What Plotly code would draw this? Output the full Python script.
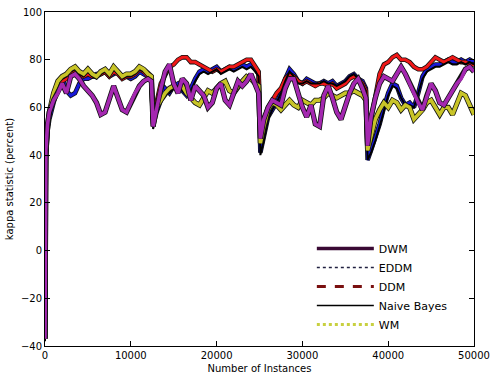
import plotly.graph_objects as go

# Number of instances (shared x grid)
X = [0, 100, 300, 500, 1000, 1500, 2000, 2500, 3000, 3500, 4000, 4500, 5000, 5500, 6000,
     6500, 7000, 7500, 8000, 8500, 9000, 9500, 10000, 10500, 11000, 11500, 12000, 12400,
     12600, 13000, 13500, 14000, 14500, 15000, 15500, 16000, 16500, 17000, 17500, 18000,
     18500, 19000, 19500, 20000, 20500, 21000, 21500, 22000, 22500, 23000, 23500, 24000,
     24500, 24900,
     25100, 25500, 26000, 26500, 27000, 27500, 28000, 28500, 29000, 29500, 30000, 30500,
     31000, 31500, 32000, 32500, 33000, 33500, 34000, 34500, 35000, 35500, 36000, 36500,
     37000, 37400,
     37600, 38000, 38500, 39000, 39500, 40000, 40500, 41000, 41500, 42000, 42500, 43000,
     43500, 44000, 44500, 45000, 45500, 46000, 46500, 47000, 47500, 48000, 48500, 49000,
     49500, 50000]

DWM = [-37, 42, 53, 58, 63, 66, 70, 66, 73, 74, 72, 69, 67, 65, 62, 57, 58, 63, 69, 64, 59, 58, 62, 66, 69, 71, 72, 71,
       52, 60, 68, 75, 78, 70, 66, 72, 70, 63, 69, 67, 65, 60, 62, 68, 70, 63, 61, 66, 71, 69, 71, 74, 70, 66,
       47, 55, 60, 63, 62, 61, 68, 72, 72, 66, 60, 56, 61, 53, 52, 65, 69, 64, 58, 55, 61, 66, 70, 72, 68, 64,
       44, 56, 64, 70, 73, 72, 71, 74, 77, 74, 70, 66, 62, 59, 65, 70, 67, 62, 61, 64, 67, 70, 72, 76, 77, 75]

EDDM = [-37, 38, 50, 55, 62, 68, 73, 67, 65, 66, 70, 72, 72, 73, 74, 74, 75, 73, 74, 75, 73, 73, 72, 73, 75, 74, 73, 72,
        52, 58, 63, 68, 66, 69, 70, 67, 65, 68, 72, 75, 76, 75, 76, 77, 75, 76, 77, 76, 77, 78, 77, 78, 76, 74,
        41, 48, 56, 59, 62, 66, 72, 76, 74, 71, 70, 72, 71, 70, 70, 71, 70, 71, 69, 70, 71, 73, 74, 72, 71, 68,
        38, 42, 47, 53, 60, 66, 70, 69, 64, 61, 62, 60, 66, 73, 76, 77, 78, 78, 79, 80, 79, 79, 80, 79, 80, 79]

DDM = [-37, 41, 52, 57, 64, 69, 71, 72, 74, 75, 74, 73, 74, 73, 73, 74, 75, 73, 75, 74, 72, 73, 73, 74, 76, 75, 73, 72,
       53, 62, 70, 74, 77, 78, 80, 81, 81, 79, 79, 78, 77, 76, 75, 76, 75, 76, 77, 77, 78, 79, 80, 80, 77, 75,
       48, 55, 60, 63, 66, 68, 72, 74, 73, 71, 70, 71, 70, 69, 70, 70, 69, 70, 68, 69, 70, 72, 73, 72, 70, 67,
       42, 55, 65, 74, 78, 79, 81, 82, 80, 80, 79, 77, 76, 76, 77, 79, 81, 80, 79, 80, 81, 80, 79, 79, 78, 78]

NAIVE_BAYES = [-38, 40, 51, 57, 65, 70, 72, 73, 75, 76, 74, 73, 75, 73, 72, 74, 75, 73, 76, 74, 72, 73, 73, 74, 76, 75, 73, 72,
               51, 57, 63, 67, 66, 68, 69, 67, 65, 67, 71, 74, 75, 74, 75, 76, 74, 75, 76, 75, 76, 77, 76, 77, 75, 73,
               40, 46, 55, 59, 62, 66, 71, 75, 73, 70, 70, 71, 70, 70, 70, 71, 70, 70, 69, 70, 71, 73, 74, 72, 70, 67,
               38, 41, 46, 52, 59, 65, 69, 68, 64, 61, 61, 60, 66, 72, 75, 76, 77, 77, 78, 79, 78, 78, 79, 78, 79, 78]

WM = [-37, 40, 52, 58, 66, 71, 73, 74, 76, 77, 75, 74, 76, 74, 73, 75, 76, 74, 77, 75, 73, 74, 74, 75, 77, 76, 74, 73,
      55, 60, 63, 66, 68, 69, 68, 69, 66, 64, 62, 61, 64, 67, 66, 68, 70, 71, 67, 66, 69, 71, 73, 72, 70, 69,
      45, 52, 59, 62, 61, 59, 61, 63, 61, 60, 63, 62, 61, 63, 63, 64, 66, 65, 64, 65, 66, 66, 67, 66, 65, 63,
      42, 48, 55, 59, 62, 60, 63, 62, 59, 61, 60, 55, 57, 59, 62, 63, 60, 57, 60, 60, 57, 62, 66, 65, 61, 57]

X_TICKS = [0, 10000, 20000, 30000, 40000, 50000]
Y_TICKS = [-40, -20, 0, 20, 40, 60, 80, 100]

FONT = "DejaVu Sans"

fig = go.Figure()

# drawn series (outline + colour), draw order bottom -> top
drawn = [
    ("EDDM", EDDM, "#1818d8", 3.0),
    ("DDM", DDM, "#f01818", 3.0),
    ("Naive Bayes", NAIVE_BAYES, "#000000", 2.0),
    ("WM", WM, "#c8c428", 3.6),
    ("DWM", DWM, "#a428b0", 3.6),
]
for name, ys, col, w in drawn:
    if col != "#000000":
        fig.add_trace(go.Scatter(x=X, y=ys, mode="lines", showlegend=False, hoverinfo="skip",
                                 line=dict(color="#101010", width=w + 1.6)))
    fig.add_trace(go.Scatter(x=X, y=ys, mode="lines", name=name, showlegend=False,
                             line=dict(color=col, width=w)))

# legend-only entries (styles as in the legend)
legend_styles = [
    ("DWM", "#3a0a34", "solid", 3.5),
    ("EDDM", "#202040", "dot", 1.5),
    ("DDM", "#7a1010", "dash", 3.0),
    ("Naive Bayes", "#000000", "solid", 1.5),
    ("WM", "#c8d040", "dot", 3.0),
]
for name, col, dash, w in legend_styles:
    fig.add_trace(go.Scatter(x=[None], y=[None], mode="lines", name=name,
                             line=dict(color=col, dash=dash, width=w)))

axis_common = dict(showline=True, linecolor="black", linewidth=1, mirror="ticks",
                   ticks="inside", ticklen=5, tickcolor="black", showgrid=False,
                   zeroline=False, automargin=False,
                   tickfont=dict(family=FONT, size=10, color="black"))

fig.update_layout(
    width=492, height=376,
    margin=dict(l=45, r=18, t=12, b=30),
    paper_bgcolor="white", plot_bgcolor="white",
    font=dict(family=FONT, size=10, color="black"),
    xaxis=dict(range=[0, 50000], tickvals=X_TICKS, ticktext=[str(v) for v in X_TICKS],
               title=dict(text="Number of Instances", font=dict(family=FONT, size=10), standoff=4),
               **axis_common),
    yaxis=dict(range=[-40, 100], tickvals=Y_TICKS,
               title=dict(text="kappa statistic (percent)", font=dict(family=FONT, size=10), standoff=5),
               **axis_common),
    legend=dict(x=0.622, y=0.335, xanchor="left", yanchor="top", bgcolor="rgba(0,0,0,0)",
                font=dict(family=FONT, size=11, color="black"), tracegroupgap=0, itemwidth=57),
    showlegend=True,
)

fig.write_html("out.html", config={"displayModeBar": False},
               post_script="document.body.style.margin='0px';document.body.style.overflow='hidden';")
